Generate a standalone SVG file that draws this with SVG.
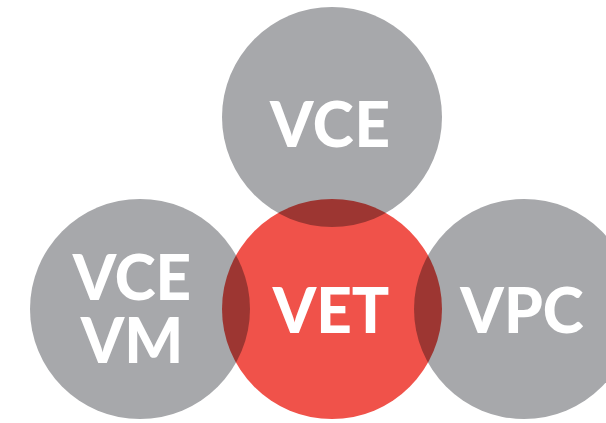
<svg xmlns="http://www.w3.org/2000/svg" width="606" height="423" viewBox="0 0 606 423">
<style>
.g{fill:#a7a8ab}
.r{fill:#f0524a;mix-blend-mode:multiply}
.t{font-family:Lato,"Noto Sans",sans-serif;font-weight:900;font-size:62px;fill:#fff;text-anchor:middle}
</style>
<rect width="606" height="423" fill="#fff"/>
<g id="vce"><circle class="g" cx="332" cy="117" r="110"/></g>
<g id="vcevm"><circle class="g" cx="140" cy="309" r="110"/></g>
<g id="vpc"><circle class="g" cx="524" cy="309" r="110"/></g>
<g id="vet"><circle class="r" cx="332" cy="309" r="110"/></g>
<g id="connectors"></g>
<g id="labels">
<text class="t" x="330" y="147" textLength="120" lengthAdjust="spacing">VCE</text>
<text class="t"><tspan x="132" y="300">VCE</tspan><tspan x="132" y="363">VM</tspan></text>
<text class="t" x="331" y="333">VET</text>
<text class="t" x="522" y="333">VPC</text>
</g>
</svg>
